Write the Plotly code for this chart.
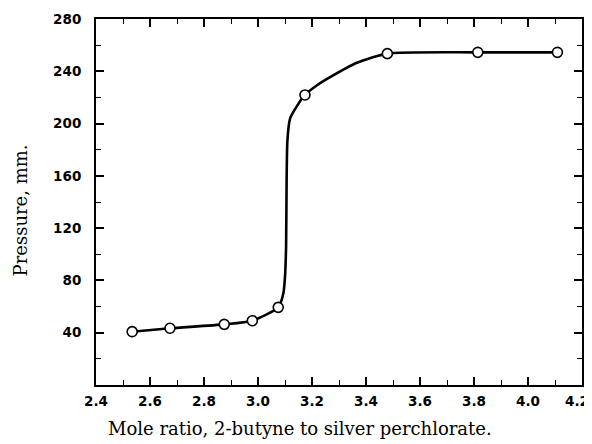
import plotly.graph_objects as go

# Measured data points
ratio = [2.534, 2.674, 2.875, 2.979, 3.075, 3.174, 3.479, 3.814, 4.109]
pressure = [40.8, 43.4, 46.4, 49.2, 59.4, 221.9, 253.5, 254.5, 254.5]

# Hand-drawn smooth curve
curve_x = [2.534, 2.674, 2.875, 2.979, 3.075, 3.094, 3.100, 3.104, 3.106, 3.109,
           3.119, 3.143, 3.174, 3.220, 3.267, 3.366, 3.479, 3.814, 4.109]
curve_y = [40.8, 43.4, 46.4, 49.2, 59.4, 70.2, 82.9, 105.8, 156.8, 187.4,
           204.0, 213.0, 221.9, 229.5, 235.5, 246.5, 253.5, 254.5, 254.5]

x_ticks = [2.4, 2.6, 2.8, 3.0, 3.2, 3.4, 3.6, 3.8, 4.0, 4.2]
x_tick_labels = ["2.4", "2.6", "2.8", "3.0", "3.2", "3.4", "3.6", "3.8", "4.0", "4.2"]
y_ticks = [40, 80, 120, 160, 200, 240, 280]

x_title = "Mole ratio, 2-butyne to silver perchlorate."
y_title = "Pressure, mm."

fig = go.Figure()
fig.add_trace(go.Scatter(x=curve_x, y=curve_y, mode="lines",
                         line=dict(color="black", width=2.6, shape="spline", smoothing=0.6),
                         hoverinfo="skip", showlegend=False))
fig.add_trace(go.Scatter(x=ratio, y=pressure, mode="markers",
                         marker=dict(symbol="circle", size=10, color="white",
                                     line=dict(color="black", width=1.6)),
                         showlegend=False))

tick_font = dict(family="DejaVu Sans", size=13.5, color="black", weight="bold")
title_font = dict(family="DejaVu Serif", size=18, color="black")

# the last label is drawn separately, nudged just inside the page edge as in the original
x_ticktext = x_tick_labels[:-1] + [""]

fig.update_xaxes(range=[2.4, 4.2], tickvals=x_ticks, ticktext=x_ticktext,
                 showgrid=False, zeroline=False, showline=True, linecolor="black", linewidth=2,
                 mirror="ticks", ticks="inside", ticklen=8, tickwidth=1.5, tickcolor="black",
                 minor=dict(dtick=0.1, tick0=2.4, ticks="inside", ticklen=5, tickwidth=1.2,
                            tickcolor="black", showgrid=False),
                 tickfont=tick_font, automargin=False, ticklabelstandoff=3)
fig.update_yaxes(range=[0, 280], tickvals=y_ticks,
                 showgrid=False, zeroline=False, showline=True, linecolor="black", linewidth=2,
                 mirror="ticks", ticks="inside", ticklen=8, tickwidth=1.5, tickcolor="black",
                 minor=dict(dtick=20, tick0=0, ticks="inside", ticklen=5, tickwidth=1.2,
                            tickcolor="black", showgrid=False),
                 tickfont=tick_font, automargin=False, ticklabelstandoff=10)

fig.add_annotation(text=x_tick_labels[-1], xref="x", yref="paper", x=x_ticks[-1], y=-0.044,
                   xanchor="center", yanchor="middle", xshift=-5, showarrow=False,
                   font=tick_font)

# axis titles as annotations (the x title sits left of the plot centre in the original)
fig.add_annotation(text=x_title, xref="paper", yref="paper", x=0.42, y=-0.1175,
                   xanchor="center", yanchor="middle", showarrow=False, font=title_font)
fig.add_annotation(text=y_title, xref="paper", yref="paper", x=-0.155, y=0.476,
                   xanchor="center", yanchor="middle", showarrow=False, font=title_font,
                   textangle=-90)

# page body has an 8px margin, so the figure is drawn 8px smaller and shifted
fig.update_layout(width=584, height=436, margin=dict(l=88, r=10, t=11, b=59),
                  plot_bgcolor="white", paper_bgcolor="white")

fig.write_html("out.html")
